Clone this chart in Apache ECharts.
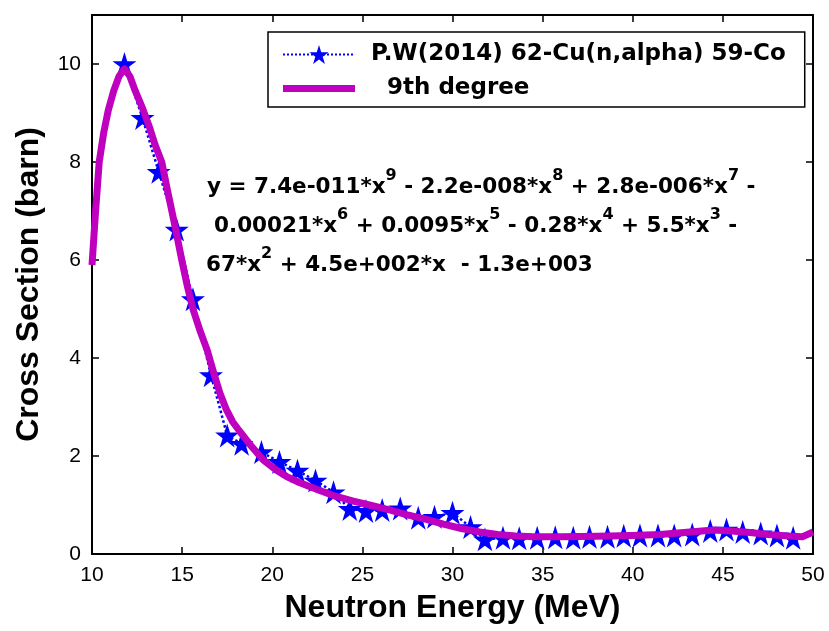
<!DOCTYPE html>
<html>
<head>
<meta charset="utf-8">
<script src="https://cdn.jsdelivr.net/npm/echarts@6/dist/echarts.min.js"></script>
<style>html,body{margin:0;padding:0;background:#fff}#c{width:829px;height:631px}</style>
</head>
<body>
<div id="c"></div>
<script>
// Measured data points (Neutron Energy MeV, Cross Section barn)
const dataX = [11.8,12.8,13.7,14.7,15.6,16.6,17.5,18.3,19.4,20.4,21.4,22.4,23.4,24.3,25.2,26.1,27.1,28.1,29.0,30.0,31.0,31.8,32.8,33.7,34.7,35.7,36.7,37.6,38.6,39.5,40.4,41.4,42.3,43.3,44.3,45.2,46.1,47.1,48.0,48.9];
const dataY = [10.0,8.9,7.8,6.62,5.2,3.65,2.42,2.25,2.08,1.88,1.7,1.5,1.26,0.92,0.88,0.9,0.93,0.74,0.76,0.84,0.55,0.3,0.33,0.32,0.33,0.34,0.33,0.35,0.35,0.37,0.38,0.38,0.38,0.4,0.47,0.5,0.45,0.42,0.38,0.33];
// 9th degree fit curve
const fitX = [10.0,10.2,10.4,10.65,10.9,11.2,11.5,11.8,12.1,12.4,12.8,13.2,13.5,13.87,14.2,14.6,14.98,15.3,15.6,16.0,16.4,16.75,17.1,17.45,17.8,18.2,18.8,19.5,20.2,20.8,21.5,22.6,23.5,24.5,25.5,26.5,27.5,28.5,29.5,30.5,31.5,32.5,33.5,34.5,36.0,38.0,40.0,41.5,42.5,43.5,44.5,45.5,46.5,47.5,48.5,49.4,50.0];
const fitY = [5.9,7.0,8.0,8.6,9.05,9.45,9.75,9.9,9.75,9.45,9.1,8.7,8.35,8.0,7.4,6.7,6.0,5.45,5.0,4.55,4.15,3.7,3.28,2.95,2.7,2.5,2.22,1.92,1.72,1.58,1.46,1.3,1.18,1.08,0.99,0.9,0.8,0.71,0.61,0.52,0.45,0.4,0.37,0.35,0.35,0.36,0.38,0.4,0.43,0.46,0.49,0.47,0.44,0.4,0.37,0.35,0.45];
const xTicks = {min:10, max:50, interval:5};
const yTicks = {min:0, max:11, interval:2};

const star = 'path://M50,2 L61.2,36.3 L97.5,36.3 L68.2,57.7 L79.4,92 L50,70.8 L20.6,92 L31.8,57.7 L2.5,36.3 L38.8,36.3 Z';
const bar = 'path://M0,0 L72,0 L72,7 L0,7 Z';
const pts = dataX.map((x,i)=>[x,dataY[i]]);
const fit = fitX.map((x,i)=>[x,fitY[i]]);

const chart = echarts.init(document.getElementById('c'), null, {renderer:'canvas'});
const FF = '"Liberation Sans", Arial, sans-serif';
const FW = '"DejaVu Sans", sans-serif';
const axisCommon = {
  axisLine:{show:true, onZero:false, lineStyle:{color:'#000', width:2}},
  axisTick:{show:true, inside:true, length:7, lineStyle:{color:'#000', width:1.5}},
  splitLine:{show:false}
};
const eqStyle = {
  b:{fontFamily:FW, fontSize:21.5, fontWeight:'bold', color:'#000', lineHeight:30, verticalAlign:'bottom'},
  s:{fontFamily:FW, fontSize:16, fontWeight:'bold', color:'#000', lineHeight:30, verticalAlign:'top', padding:[0,0,16,0]}
};
function eq(parts){
  return parts.map(p => p[0]==='^' ? '{s|'+p.slice(1)+'}' : '{b|'+p+'}').join('');
}
const name1 = 'P.W(2014) 62-Cu(n,alpha) 59-Co';
const name2 = '  9th degree';
chart.setOption({
  animation:false,
  backgroundColor:'#fff',
  grid:{left:92, right:16, top:15, bottom:77, containLabel:false},
  xAxis:[
    Object.assign({type:'value', position:'bottom', min:xTicks.min, max:xTicks.max, interval:xTicks.interval,
      name:'Neutron Energy (MeV)', nameLocation:'middle', nameGap:38,
      nameTextStyle:{fontFamily:FF, fontSize:32, color:'#000', fontWeight:'bold'},
      axisLabel:{fontFamily:FF, fontSize:21, color:'#000', margin:11}}, axisCommon),
    Object.assign({type:'value', position:'top', min:xTicks.min, max:xTicks.max, interval:xTicks.interval,
      axisLabel:{show:false}}, axisCommon)
  ],
  yAxis:[
    Object.assign({type:'value', position:'left', min:yTicks.min, max:yTicks.max, interval:yTicks.interval,
      name:'Cross Section (barn)', nameLocation:'middle', nameGap:47,
      nameTextStyle:{fontFamily:FF, fontSize:32, color:'#000', fontWeight:'bold'},
      axisLabel:{fontFamily:FF, fontSize:21, color:'#000', margin:11, showMaxLabel:false}}, axisCommon),
    Object.assign({type:'value', position:'right', min:yTicks.min, max:yTicks.max, interval:yTicks.interval,
      axisLabel:{show:false}}, axisCommon)
  ],
  legend:{
    orient:'vertical', left:268, top:32,
    backgroundColor:'#fff',
    borderColor:'#000', borderWidth:1.5, borderRadius:0,
    padding:[11,19,7,14], itemGap:11, itemWidth:72, itemHeight:24,
    symbolKeepAspect:true,
    textStyle:{fontFamily:FW, fontSize:23, fontWeight:'bold', color:'#000', padding:[0,0,0,11]},
    data:[{name:name1}, {name:name2, icon:bar}]
  },
  series:[
    {name:name1, type:'line', data:pts, symbol:star, symbolSize:24,
     itemStyle:{color:'#0000ff'}, lineStyle:{color:'#0000ff', width:2.5, type:'dotted'}, z:2},
    {name:name2, type:'line', data:fit, symbol:'none', smooth:false,
     itemStyle:{color:'#bf00bf'}, lineStyle:{color:'#bf00bf', width:7, join:'round'}, z:3}
  ],
  graphic:[
    {type:'text', left:207, top:168, z:10, style:{rich:eqStyle,
      text:eq(['y = 7.4e-011*x','^9',' - 2.2e-008*x','^8',' + 2.8e-006*x','^7',' -'])}},
    {type:'text', left:214, top:207, z:10, style:{rich:eqStyle,
      text:eq(['0.00021*x','^6',' + 0.0095*x','^5',' - 0.28*x','^4',' + 5.5*x','^3',' -'])}},
    {type:'text', left:206, top:246, z:10, style:{rich:eqStyle,
      text:eq(['67*x','^2',' + 4.5e+002*x  - 1.3e+003'])}}
  ]
});
</script>
</body>
</html>
